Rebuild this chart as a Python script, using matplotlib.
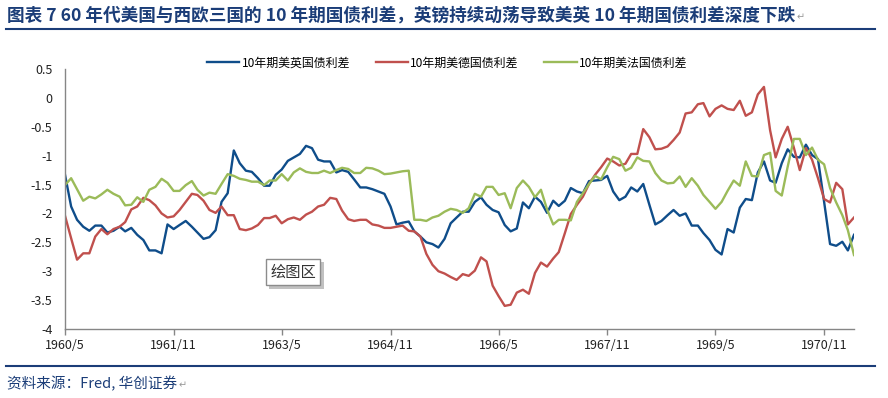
import matplotlib
matplotlib.use("Agg")
import matplotlib.pyplot as plt
import matplotlib.patheffects as pe
import pandas as pd

plt.rcParams['font.family'] = ['Noto Sans CJK SC', 'DejaVu Sans']

# monthly, 1960/5 - 1971/4
months = pd.date_range("1960-05-01", periods=132, freq="MS")

us_uk = [
    -1.33, -1.88, -2.11, -2.23, -2.30, -2.21, -2.21, -2.33, -2.30, -2.23,
    -2.31, -2.25, -2.37, -2.46, -2.64, -2.64, -2.69, -2.19, -2.27, -2.20,
    -2.13, -2.23, -2.33, -2.44, -2.41, -2.29, -1.80, -1.65, -0.91, -1.13,
    -1.26, -1.28, -1.39, -1.52, -1.52, -1.33, -1.24, -1.09, -1.03, -0.97,
    -0.83, -0.87, -1.07, -1.10,
    -1.10, -1.29, -1.25, -1.28, -1.41, -1.55, -1.55, -1.58, -1.62, -1.66,
    -1.88, -2.19, -2.16, -2.14, -2.31, -2.40, -2.50, -2.53, -2.59, -2.44,
    -2.17, -2.07, -1.97, -1.97, -1.80, -1.72, -1.85, -1.94, -1.98, -2.20,
    -2.31, -2.26, -1.81, -1.91, -1.71, -1.80, -1.99, -1.78, -1.87, -1.78,
    -1.56, -1.62, -1.65, -1.44, -1.43, -1.42, -1.35,
    -1.62,
    -1.77, -1.71, -1.55, -1.62, -1.49, -1.85, -2.19, -2.13, -2.03, -1.94,
    -2.04, -2.00, -2.21, -2.21, -2.34, -2.46, -2.63, -2.71, -2.27, -2.33,
    -1.90, -1.75, -1.77, -1.29, -1.10, -1.43, -1.47, -1.13, -0.89, -1.02,
    -1.03, -0.81, -0.99, -1.06, -1.80, -2.53, -2.56, -2.49, -2.64, -2.37,
]

us_de = [
    -2.04, -2.43, -2.80, -2.69, -2.69, -2.40, -2.27, -2.36, -2.27, -2.23,
    -2.15, -1.93, -1.88, -1.73, -1.77, -1.86, -2.00, -2.07, -2.05, -1.94,
    -1.80, -1.66, -1.68, -1.78, -1.94, -1.99, -1.88, -2.03, -2.03, -2.27,
    -2.29, -2.26, -2.20, -2.08, -2.08, -2.04, -2.17, -2.10, -2.07, -2.11,
    -2.02, -1.97, -1.88, -1.85,
    -1.73, -1.75, -1.95, -2.10, -2.13, -2.11, -2.11, -2.19, -2.21, -2.25,
    -2.25, -2.23, -2.21, -2.30, -2.31, -2.40, -2.70, -2.89, -3.00, -3.04,
    -3.10, -3.15, -3.05, -3.08, -2.99, -2.76, -2.83, -3.25, -3.43, -3.60,
    -3.58, -3.37, -3.32, -3.39, -3.03, -2.85, -2.92, -2.78, -2.67, -2.34,
    -2.01, -1.85, -1.71, -1.49, -1.33, -1.20, -1.05, -1.10, -1.17,
    -1.14, -0.97, -0.97, -0.54, -0.68, -0.89, -0.88, -0.84, -0.73, -0.60,
    -0.27, -0.25, -0.11, -0.09, -0.32, -0.19, -0.13, -0.19, -0.21, -0.05,
    -0.31, -0.25, 0.06, 0.19, -0.56, -1.03, -0.71, -0.50, -0.86, -1.25,
    -0.87, -1.07, -1.39, -1.75, -1.81, -1.47, -1.58, -2.19, -2.07,
]

us_fr = [
    -1.51, -1.39, -1.58, -1.78, -1.71, -1.74, -1.67, -1.59, -1.66, -1.71,
    -1.86, -1.85, -1.72, -1.80, -1.59, -1.54, -1.40, -1.47, -1.61, -1.61,
    -1.51, -1.44, -1.59, -1.69, -1.64, -1.66, -1.49, -1.32, -1.35, -1.40,
    -1.42, -1.45, -1.45, -1.51, -1.43, -1.43, -1.32, -1.43, -1.29, -1.22,
    -1.28, -1.30, -1.30, -1.26,
    -1.30, -1.25, -1.21, -1.23, -1.30, -1.30, -1.21, -1.22, -1.26, -1.32,
    -1.31, -1.29, -1.27, -1.26,
    -2.11, -2.11, -2.13, -2.07, -2.04, -1.97, -1.92, -1.94, -1.99, -1.91,
    -1.66, -1.71, -1.54, -1.54, -1.68, -1.65, -1.91, -1.56, -1.43, -1.54,
    -1.72, -1.59, -1.93, -2.19, -2.11, -2.11, -2.12, -1.80, -1.65, -1.49,
    -1.35, -1.41, -1.20, -1.02, -1.06,
    -1.26, -1.21, -1.03, -1.09, -1.10, -1.30, -1.43, -1.48, -1.47, -1.36,
    -1.54, -1.39, -1.52, -1.68, -1.80, -1.92, -1.80, -1.61, -1.43, -1.52,
    -1.10, -1.35, -1.36, -0.99, -0.95, -1.61, -1.69, -1.19, -0.71, -0.71,
    -0.99, -0.86, -1.07, -1.15, -1.56, -1.81, -2.03, -2.29, -2.72,
]

series_names = ["10年期美英国债利差", "10年期美德国债利差", "10年期美法国债利差"]
series_colors = ["#0F4D8A", "#C0504D", "#9BBB59"]

tick_dates = pd.to_datetime(["1960-05-01", "1961-11-01", "1963-05-01", "1964-11-01",
                             "1966-05-01", "1967-11-01", "1969-05-01", "1970-11-01"])
tick_labels = ["1960/5", "1961/11", "1963/5", "1964/11", "1966/5", "1967/11", "1969/5", "1970/11"]
y_ticks = [0.5, 0, -0.5, -1, -1.5, -2, -2.5, -3, -3.5, -4]

title = "图表 7 60 年代美国与西欧三国的 10 年期国债利差，英镑持续动荡导致美英 10 年期国债利差深度下跌"
source = "资料来源：Fred, 华创证券"

navy = "#1B3D78"
W, H = 888, 398

fig = plt.figure(figsize=(8.88, 3.98), dpi=100)
ax = fig.add_axes([65 / W, 1 - 329 / H, (854 - 65) / W, (329 - 69) / H])

for vals, name, col in zip([us_uk, us_de, us_fr], series_names, series_colors):
    ax.plot(months, vals, color=col, lw=1.7, label=name, solid_joinstyle="round")

ax.set_xlim(months[0], months[-1])
ax.set_ylim(-4, 0.5)
ax.set_yticks(y_ticks)
ax.set_yticklabels([f"{v:g}" for v in y_ticks])
ax.set_xticks(tick_dates)
ax.set_xticklabels(tick_labels)
ax.tick_params(axis="y", length=0, pad=9, labelsize=9, colors="#222222")
ax.tick_params(axis="x", length=4, width=1, pad=3, labelsize=9, colors="#222222")
ax.tick_params(axis="x", color="#868686")
for s in ["top", "right"]:
    ax.spines[s].set_visible(False)
for s in ["left", "bottom"]:
    ax.spines[s].set_color("#868686")
    ax.spines[s].set_linewidth(1)

fig.legend(loc="center left", bbox_to_anchor=(207 / W, 1 - 63 / H), ncol=3,
           frameon=False, fontsize=8.6, handlelength=2.7, handletextpad=0.2,
           columnspacing=2.15, borderpad=0, borderaxespad=0)

# "绘图区" tooltip box
t = fig.text(293 / W, 1 - 272 / H, "绘图区", ha="center", va="center", fontsize=11,
             color="#333333",
             bbox=dict(boxstyle="square,pad=0.3", fc="white", ec="#8C8C8C", lw=1))
t.get_bbox_patch().set_path_effects([
    pe.withSimplePatchShadow(offset=(2.5, -2.5), shadow_rgbFace="#999999", alpha=0.6)])

# title, rules and source
title_txt = fig.text(7 / W, 1 - 15 / H, title, ha="left", va="center", fontsize=12.7,
                     fontweight="bold", color=navy)
fig.add_artist(plt.Line2D([6 / W, 875 / W], [1 - 29 / H, 1 - 29 / H], color=navy, lw=1.5))
fig.add_artist(plt.Line2D([6 / W, 875 / W], [1 - 366 / H, 1 - 366 / H], color=navy, lw=1.5))
src_txt = fig.text(7 / W, 1 - 384 / H, source, ha="left", va="center", fontsize=10.5,
                   style="italic", color=navy)

# paragraph marks right after the title and the source
fig.canvas.draw()
r = fig.canvas.get_renderer()
for txt, yy in [(title_txt, 17), (src_txt, 385)]:
    bb = txt.get_window_extent(r)
    fig.text((bb.x1 + 1) / W, 1 - yy / H, "↵", ha="left", va="center", fontsize=7,
             color="#999999", family=["DejaVu Sans"])

fig.savefig("out.png", dpi=100, facecolor="white")
